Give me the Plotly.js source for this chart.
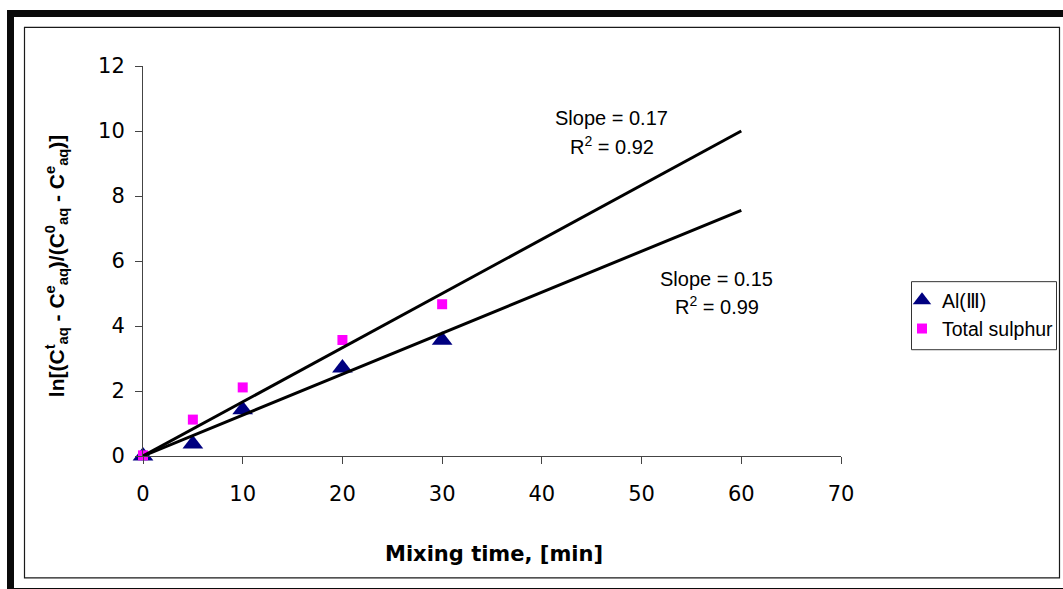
<!DOCTYPE html>
<html>
<head>
<meta charset="utf-8">
<script src="https://cdn.plot.ly/plotly-3.0.1.min.js"></script>
<style>
  html, body { margin: 0; padding: 0; background: #ffffff; }
  #chart { width: 1063px; height: 589px; }
</style>
</head>
<body>
<div id="chart"></div>
<script>
// Sampled mixing times (min) and the linearised concentration term
const mixingTime = [0, 5, 10, 20, 30];
const aluminium = [0, 0.37, 1.42, 2.71, 3.56];
const totalSulphur = [0.02, 1.12, 2.11, 3.57, 4.67];
const seriesNames = ['Al(Ⅲ)', 'Total sulphur'];

// Trendline end points (fits through the origin, drawn out to 60 min)
const trendTime = [0, 60];
const sulphurTrend = [0, 10.0];
const aluminiumTrend = [0, 7.56];

// Fit statistics printed beside the lines
const sulphurFit = ['Slope = 0.17', 'R<sup>2</sup> = 0.92'];
const aluminiumFit = ['Slope = 0.15', 'R<sup>2</sup> = 0.99'];

const xTickValues = [0, 10, 20, 30, 40, 50, 60, 70];
const yTickValues = [0, 2, 4, 6, 8, 10, 12];
const xTitle = 'Mixing time, [min]';
const yTitle = 'ln[(C<sup>t</sup><sub>aq</sub> - C<sup>e</sup><sub>aq</sub>)/(C<sup>0</sup><sub>aq</sub> - C<sup>e</sup><sub>aq</sub>)]';

// Page geometry: plot area spans x 143..841 px and y 66..455.7 px
const W = 1063, H = 589;
const L = 143, R = 841, T = 66, B = 455.7;
const px = x => (x - L) / (R - L);
const py = y => (B - y) / (B - T);

const ARIAL = 'Liberation Sans, Arial, sans-serif';
const WIDE = 'DejaVu Sans, Verdana, sans-serif';

const traces = [
  {
    x: mixingTime, y: aluminium, name: seriesNames[0],
    type: 'scatter', mode: 'markers', cliponaxis: false,
    marker: { symbol: 'triangle-up', size: 18, color: '#000080' },
    legendgroup: 'al'
  },
  {
    x: mixingTime, y: totalSulphur, name: seriesNames[1],
    type: 'scatter', mode: 'markers', cliponaxis: false,
    marker: { symbol: 'square', size: 10, color: '#ff00ff' },
    legendgroup: 's'
  },
  {
    x: trendTime, y: sulphurTrend, type: 'scatter', mode: 'lines',
    line: { color: '#000000', width: 3 }, showlegend: false, cliponaxis: false,
    hoverinfo: 'skip'
  },
  {
    x: trendTime, y: aluminiumTrend, type: 'scatter', mode: 'lines',
    line: { color: '#000000', width: 3 }, showlegend: false, cliponaxis: false,
    hoverinfo: 'skip'
  }
];

function rect(x0, y0, x1, y1, opts) {
  return Object.assign({
    type: 'rect', xref: 'paper', yref: 'paper',
    x0: px(x0), x1: px(x1), y0: py(y0), y1: py(y1)
  }, opts);
}

const solid = { fillcolor: '#0a0a0a', line: { width: 0 } };

const shapes = [
  rect(7, 10, 1063, 17, solid),
  rect(7, 10, 14, 589, solid),
  rect(7, 587.5, 1063, 589, solid),
  rect(24.5, 27.5, 1059.5, 577.5, { fillcolor: 'rgba(0,0,0,0)', line: { color: '#1a1a1a', width: 1.2 } }),
  rect(911.5, 281.5, 1056.5, 349.5, { fillcolor: 'rgba(0,0,0,0)', line: { color: '#333333', width: 1 } })
];

function label(text, x, y, font, extra) {
  return Object.assign({
    text: text, xref: 'paper', yref: 'paper', x: px(x), y: py(y),
    xanchor: 'center', yanchor: 'middle', showarrow: false, font: font
  }, extra || {});
}

const fitFont = { family: ARIAL, size: 20, color: '#000000' };

const annotations = [
  label(sulphurFit[0], 611.5, 118, fitFont),
  label(sulphurFit[1], 612, 145, fitFont),
  label(aluminiumFit[0], 716, 279, fitFont),
  label(aluminiumFit[1], 716.5, 305, fitFont),
  label('<b>' + xTitle + '</b>', 494, 554, { family: WIDE, size: 21, color: '#000000' }),
  label('<b>' + yTitle + '</b>', 56, 266, { family: ARIAL, size: 21, color: '#000000' }, { textangle: -90 })
];

const axisCommon = {
  showgrid: false, zeroline: false, showline: true, automargin: false,
  linecolor: '#444444', linewidth: 1,
  ticks: 'outside', ticklen: 7, tickwidth: 1, tickcolor: '#444444',
  tickfont: { family: WIDE, size: 21, color: '#000000' },
  fixedrange: true
};

const layout = {
  width: W, height: H,
  margin: { l: L, r: W - R, t: T, b: H - B, pad: 0, autoexpand: false },
  paper_bgcolor: '#ffffff', plot_bgcolor: '#ffffff',
  xaxis: Object.assign({}, axisCommon, {
    range: [0, 70], tickmode: 'array', tickvals: xTickValues,
    ticklabelstandoff: 12
  }),
  yaxis: Object.assign({}, axisCommon, {
    range: [0, 12], tickmode: 'array', tickvals: yTickValues,
    ticklabelstandoff: 6
  }),
  showlegend: true,
  legend: {
    xref: 'container', yref: 'container',
    x: 902 / W, y: 1 - 281 / H, xanchor: 'left', yanchor: 'top',
    bgcolor: 'rgba(0,0,0,0)', borderwidth: 0,
    font: { family: ARIAL, size: 19.5, color: '#000000' },
    tracegroupgap: 0
  },
  shapes: shapes,
  annotations: annotations
};

Plotly.newPlot('chart', traces, layout, { staticPlot: true, displayModeBar: false });
</script>
</body>
</html>
